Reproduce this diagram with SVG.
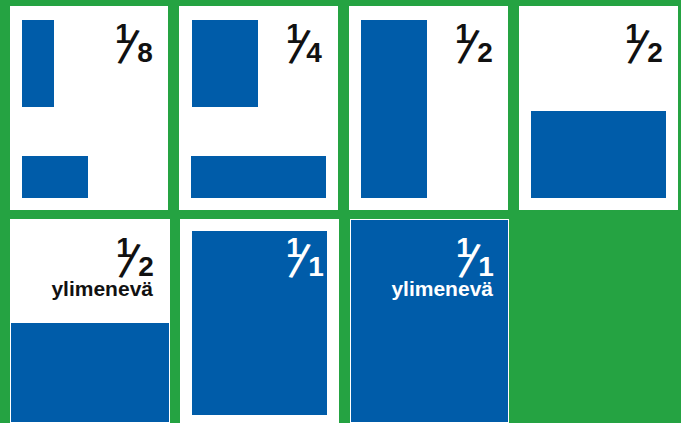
<svg xmlns="http://www.w3.org/2000/svg" width="681" height="423" viewBox="0 0 681 423">
<style>
.page{fill:#ffffff}
.blk{fill:#005ca9}
.frac{font-family:"Liberation Sans",Arial,sans-serif;text-anchor:middle}
.n{font-weight:bold;font-size:28px}
.s{font-family:"DejaVu Sans","Liberation Sans",sans-serif;font-weight:normal;font-size:44px}
.lbl{font-family:"Liberation Sans",Arial,sans-serif;font-weight:bold;font-size:21px;text-anchor:end}
.dark{fill:#111111}
.light{fill:#ffffff}
</style>
<rect x="0" y="0" width="681" height="423" fill="#25a342"/>
<g id="page-eighth">
<rect class="page" x="10" y="6" width="158" height="204"/>
<rect class="blk" x="22" y="20" width="32" height="87"/>
<rect class="blk" x="22" y="156" width="66" height="42"/>
<text class="frac dark"><tspan class="n" x="123" y="43">1</tspan><tspan class="s" x="126" y="59" rotate="12">/</tspan><tspan class="n" x="145" y="62">8</tspan></text>
</g>
<g id="page-quarter">
<rect class="page" x="179" y="6" width="159" height="204"/>
<rect class="blk" x="192" y="20" width="66" height="87"/>
<rect class="blk" x="191" y="156" width="135" height="42"/>
<text class="frac dark"><tspan class="n" x="294" y="43">1</tspan><tspan class="s" x="297" y="59" rotate="12">/</tspan><tspan class="n" x="314" y="62">4</tspan></text>
</g>
<g id="page-half-vertical">
<rect class="page" x="349" y="6" width="159" height="204"/>
<rect class="blk" x="361" y="20" width="66" height="178"/>
<text class="frac dark"><tspan class="n" x="463" y="43">1</tspan><tspan class="s" x="466" y="59" rotate="12">/</tspan><tspan class="n" x="485" y="62">2</tspan></text>
</g>
<g id="page-half-horizontal">
<rect class="page" x="519" y="6" width="159" height="204"/>
<rect class="blk" x="531" y="111" width="135" height="87"/>
<text class="frac dark"><tspan class="n" x="633" y="43">1</tspan><tspan class="s" x="636" y="59" rotate="12">/</tspan><tspan class="n" x="655" y="62">2</tspan></text>
</g>
<g id="page-half-bleed">
<rect class="page" x="10" y="219" width="160" height="204"/>
<rect class="blk" x="11" y="323" width="158" height="99"/>
<text class="frac dark"><tspan class="n" x="124" y="257">1</tspan><tspan class="s" x="127" y="273" rotate="12">/</tspan><tspan class="n" x="146" y="276">2</tspan></text>
<text class="lbl dark" x="153" y="296">ylimenevä</text>
</g>
<g id="page-full">
<rect class="page" x="180" y="219" width="159" height="204"/>
<rect class="blk" x="192" y="231" width="135" height="184"/>
<text class="frac light"><tspan class="n" x="294" y="257">1</tspan><tspan class="s" x="297" y="273" rotate="12">/</tspan><tspan class="n" x="316" y="276">1</tspan></text>
</g>
<g id="page-full-bleed">
<rect class="page" x="350" y="219" width="159" height="204"/>
<rect class="blk" x="351" y="220" width="157" height="202"/>
<text class="frac light"><tspan class="n" x="464" y="257">1</tspan><tspan class="s" x="467" y="273" rotate="12">/</tspan><tspan class="n" x="486" y="276">1</tspan></text>
<text class="lbl light" x="493" y="296">ylimenevä</text>
</g>
<g id="connectors"/>
</svg>
